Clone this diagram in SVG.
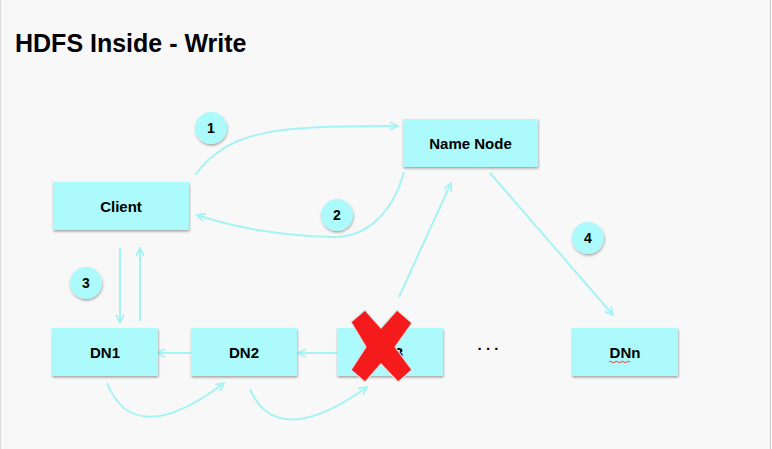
<svg xmlns="http://www.w3.org/2000/svg" width="772" height="449" viewBox="0 0 772 449">
<style>
.box{fill:#acfafc;filter:url(#sh);}
.lbl{font-family:"Liberation Sans",Arial,sans-serif;font-weight:bold;font-size:15px;fill:#000;text-anchor:middle;}
.num{font-family:"Liberation Sans",Arial,sans-serif;font-weight:bold;font-size:14px;fill:#000;text-anchor:middle;}
.bub{fill:#acfafc;filter:url(#sh);}
.con{fill:none;stroke:#a6f3f4;stroke-width:2;marker-end:url(#ah);}
</style>
<defs>
<filter id="sh" x="-20%" y="-20%" width="140%" height="150%">
<feDropShadow dx="0.5" dy="1.5" stdDeviation="1" flood-color="#000" flood-opacity="0.35"/>
</filter>
<marker id="ah" viewBox="0 0 10 10" refX="9" refY="5" markerWidth="10" markerHeight="10" markerUnits="userSpaceOnUse" orient="auto">
<path d="M1,1 L9,5 L1,9" fill="none" stroke="#a6f3f4" stroke-width="1.8"/>
</marker>
</defs>
<rect x="0" y="0" width="772" height="449" fill="#ffffff"/>
<rect x="0" y="0" width="770.5" height="449" fill="#f8f8f8"/>
<line x1="0.5" y1="0" x2="0.5" y2="449" stroke="#dcdcdc" stroke-width="1"/>
<line x1="770.5" y1="0" x2="770.5" y2="449" stroke="#cfcfcf" stroke-width="1.2"/>
<text x="15" y="52" font-family="'Liberation Sans',Arial,sans-serif" font-weight="bold" font-size="25" fill="#000">HDFS Inside - Write</text>

<g id="connectors">
<path class="con" d="M195,175 C230,128 280,126 398,126"/>
<path class="con" d="M404,172 C392,215 365,238 332,237 C285,236 235,228 197,215"/>
<path class="con" d="M120,248 L120,323"/>
<path class="con" d="M140,321 L140,248"/>
<path class="con" d="M195,353 L157,353"/>
<path class="con" d="M337,353 L298,353"/>
<path class="con" d="M107,383 C125,428 165,428 224,383"/>
<path class="con" d="M250,389 C268,432 310,428 367,387"/>
<path class="con" d="M399,297 L451,183"/>
<path class="con" d="M490,173 L613,315"/>
</g>

<g id="client"><rect class="box" x="53" y="182" width="136" height="48"/><text class="lbl" x="121" y="212">Client</text></g>
<g id="namenode"><rect class="box" x="403" y="119" width="135" height="48"/><text class="lbl" x="470.5" y="148.5">Name Node</text></g>
<g id="dn1"><rect class="box" x="52" y="328" width="106" height="48"/><text class="lbl" x="105" y="357.5">DN1</text></g>
<g id="dn2"><rect class="box" x="191" y="328" width="106" height="48"/><text class="lbl" x="244" y="357.5">DN2</text></g>
<g id="dn3"><rect class="box" x="337" y="328" width="106" height="48"/><text class="lbl" x="388" y="357.5">DN3</text></g>
<g id="dnn"><rect class="box" x="572" y="328" width="106" height="48"/><text class="lbl" x="625" y="357.5">DNn</text>
<path d="M609,362 q1.5,-1.5 3,0 t3,0 t3,0 t3,0 t3,0 t3,0 t3,0" fill="none" stroke="#e03030" stroke-width="0.9"/></g>
<g id="dots"><text class="lbl" x="488" y="350">. . .</text></g>

<g id="b1"><circle class="bub" cx="211" cy="128" r="16"/><text class="num" x="211" y="133">1</text></g>
<g id="b2"><circle class="bub" cx="337" cy="215" r="16"/><text class="num" x="337" y="220">2</text></g>
<g id="b3"><circle class="bub" cx="86" cy="283" r="16"/><text class="num" x="86" y="288">3</text></g>
<g id="b4"><circle class="bub" cx="588" cy="238" r="16"/><text class="num" x="588" y="243">4</text></g>

<g id="cross"><polygon points="351,322 365,310 381,328 397,310 412,323 395,347 412,370 398,382 381,364 365,382 351,370 366,347" fill="#f51a1c" stroke="#d8e8e8" stroke-width="1.2" stroke-linejoin="round"/></g>
</svg>
